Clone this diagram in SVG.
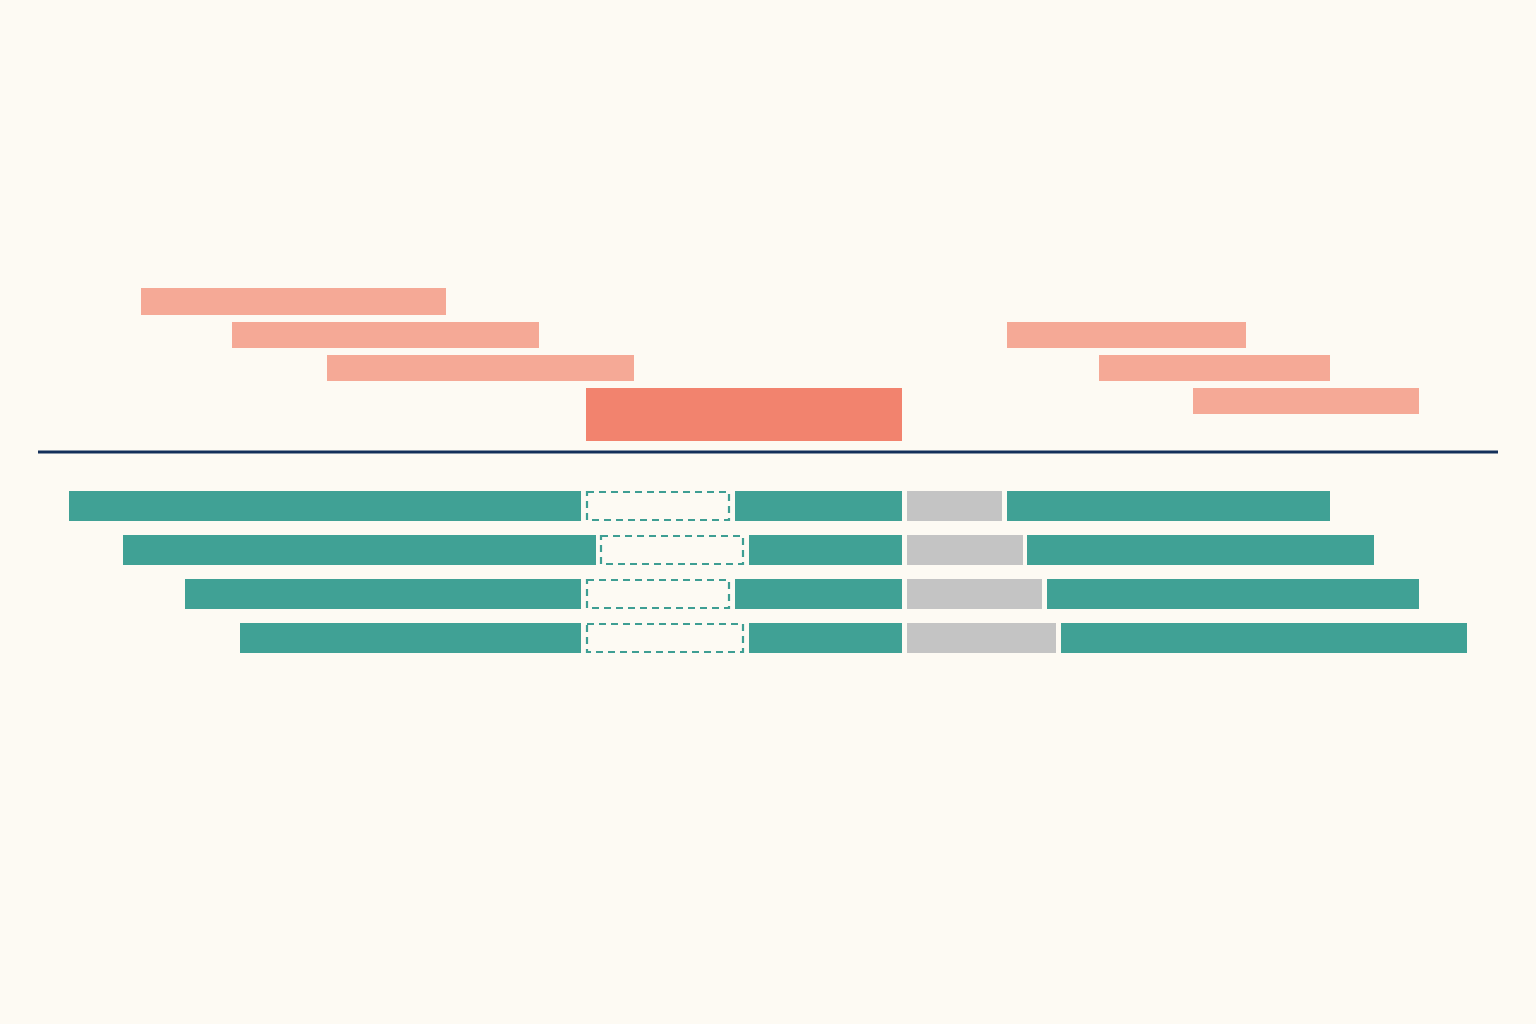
<svg xmlns="http://www.w3.org/2000/svg" width="1536" height="1024" viewBox="0 0 1536 1024">
<style>
.bg{fill:#FDFAF3}
.sal{fill:#F5A996}
.red{fill:#F2836E}
.teal{fill:#40A195}
.gray{fill:#C4C4C4}
.dash{fill:none;stroke:#3E9E93;stroke-width:2.2;stroke-dasharray:7 5}
.axis{stroke:#14305A;stroke-width:3}
</style>
<rect class="bg" x="0" y="0" width="1536" height="1024"/>
<g id="upper-left">
<rect class="sal" x="141" y="288" width="305" height="27"/>
<rect class="sal" x="232" y="322" width="307" height="26"/>
<rect class="sal" x="327" y="355" width="307" height="26"/>
</g>
<g id="centre-block">
<rect class="red" x="586" y="388" width="316" height="53"/>
</g>
<g id="upper-right">
<rect class="sal" x="1007" y="322" width="239" height="26"/>
<rect class="sal" x="1099" y="355" width="231" height="26"/>
<rect class="sal" x="1193" y="388" width="226" height="26"/>
</g>
<g id="axis">
<line class="axis" x1="38" y1="452" x2="1498" y2="452"/>
</g>
<g id="row1">
<rect class="teal" x="69" y="491" width="512" height="30"/>
<rect class="dash" x="587" y="492" width="142" height="28"/>
<rect class="teal" x="735" y="491" width="167" height="30"/>
<rect class="gray" x="907" y="491" width="95" height="30"/>
<rect class="teal" x="1007" y="491" width="323" height="30"/>
</g>
<g id="row2">
<rect class="teal" x="123" y="535" width="473" height="30"/>
<rect class="dash" x="601" y="536" width="142" height="28"/>
<rect class="teal" x="749" y="535" width="153" height="30"/>
<rect class="gray" x="907" y="535" width="116" height="30"/>
<rect class="teal" x="1027" y="535" width="347" height="30"/>
</g>
<g id="row3">
<rect class="teal" x="185" y="579" width="396" height="30"/>
<rect class="dash" x="587" y="580" width="142" height="28"/>
<rect class="teal" x="735" y="579" width="167" height="30"/>
<rect class="gray" x="907" y="579" width="135" height="30"/>
<rect class="teal" x="1047" y="579" width="372" height="30"/>
</g>
<g id="row4">
<rect class="teal" x="240" y="623" width="341" height="30"/>
<rect class="dash" x="587" y="624" width="156" height="28"/>
<rect class="teal" x="749" y="623" width="153" height="30"/>
<rect class="gray" x="907" y="623" width="149" height="30"/>
<rect class="teal" x="1061" y="623" width="406" height="30"/>
</g>
</svg>
